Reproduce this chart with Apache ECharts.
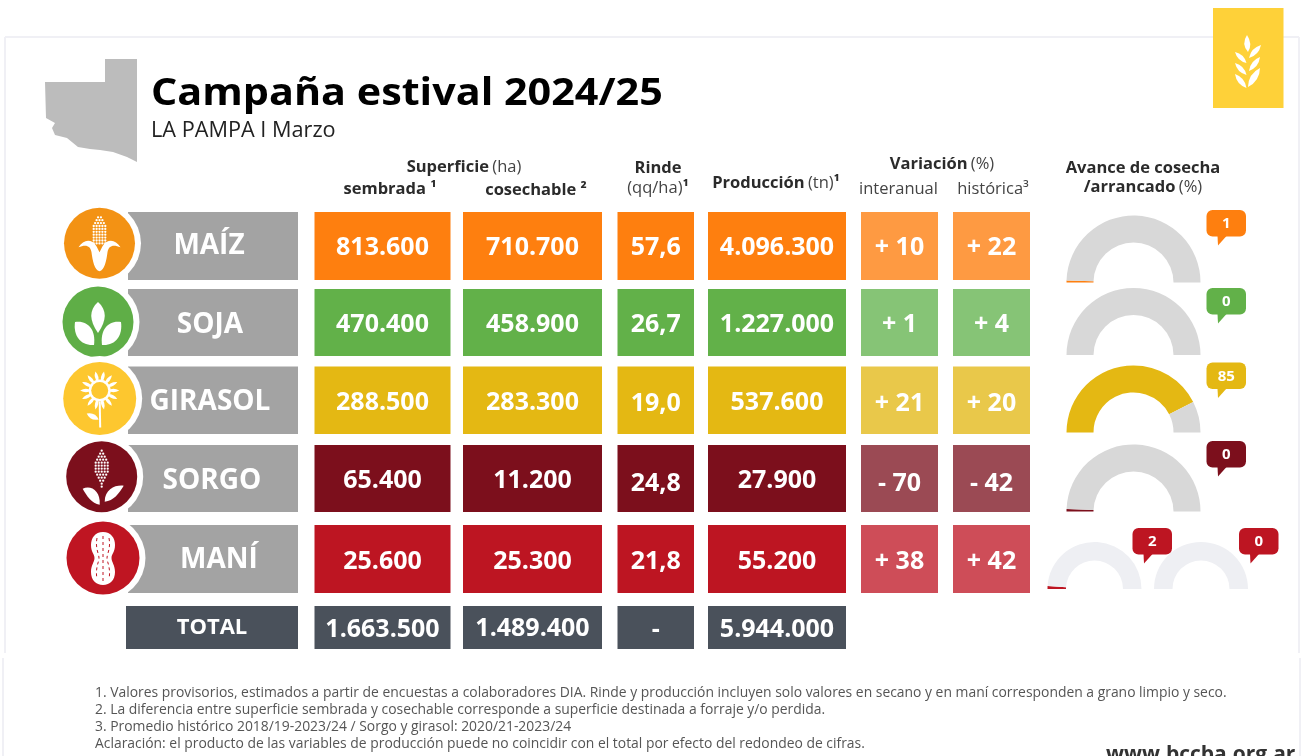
<!DOCTYPE html>
<html>
<head>
<meta charset="utf-8">
<title>Campaña estival 2024/25</title>
<script src="https://cdn.jsdelivr.net/npm/echarts@6/dist/echarts.min.js"></script>
<style>
html,body{margin:0;padding:0;background:#fff;overflow:hidden}
#chart{width:1301px;height:756px}
</style>
</head>
<body>
<div id="chart"></div>
<script>
// datos
var cultivos = ['MAÍZ', 'SOJA', 'GIRASOL', 'SORGO', 'MANÍ', 'TOTAL'];
var sembrada = [813600, 470400, 288500, 65400, 25600, 1663500];
var cosechable = [710700, 458900, 283300, 11200, 25300, 1489400];
var rinde = [57.6, 26.7, 19.0, 24.8, 21.8, null];
var produccion = [4096300, 1227000, 537600, 27900, 55200, 5944000];
var interanual = [10, 1, 21, -70, 38];
var historica = [22, 4, 20, -42, 42];
// avance: el dibujo usa el valor sin redondear, la burbuja el publicado
var avance = [1, 0, 85, 1.2, 2, 0];
var avanceEtiqueta = [1, 0, 85, 0, 2, 0];
var notas = [
  '1. Valores provisorios, estimados a partir de encuestas a colaboradores DIA. Rinde y producción incluyen solo valores en secano y en maní corresponden a grano limpio y seco.',
  '2. La diferencia entre superficie sembrada y cosechable corresponde a superficie destinada a forraje y/o perdida.',
  '3. Promedio histórico 2018/19-2023/24 / Sorgo y girasol: 2020/21-2023/24',
  'Aclaración: el producto de las variables de producción puede no coincidir con el total por efecto del redondeo de cifras.'
];

// colores y disposicion
var colorFila = ['#fe7f0f', '#62b149', '#e4b813', '#7c0f1c', '#bd1522', '#4a515b'];
var colorVar = ['#fe9a42', '#86c476', '#e9c84a', '#9b4a54', '#ce4d58'];
var colorCirculo = ['#f39214', '#5fae47', '#fdc72f', '#7c0f1c', '#bf1522'];
var colX = [314.5, 463, 617.5, 708, 861, 953];
var colW = [136, 139, 76.5, 138, 77, 77];
var rowY = [212, 289, 366.5, 445, 525, 606];
var rowH = [68, 67, 67.5, 67, 68, 43];
var textoY = [248, 325, 403, 481, 562, 629.5];
// en el original algunas cifras no estan centradas igual en su fila
var ajusteY = {2: [0, 0, 1, -0.5, 1, 1], 3: [0, 0, 2.5, 0, 2.5, 2.5], 5: [0, -1, 0, 0, 0, 0]};
var circulos = [[99.5, 243.3, 35.5], [98, 322, 35.5], [99.7, 398.5, 36.5], [101.7, 476.7, 35.5], [103, 558, 36.5]];
var nombreX = [209, 210, 210, 212, 219, 212];
var nombreY = [246, 325, 402, 481, 560, 628];
var gaugeCentro = [[1133.5, 282.5], [1133.5, 355], [1133.5, 432.5], [1133.5, 511.5], [1094.5, 589], [1201, 589]];
var gaugeRadio = [[40, 67], [40, 67], [40, 67], [40, 67], [28.5, 47], [28.5, 47]];
var gaugeColor = ['#fe7f0f', '#62b149', '#e4b813', '#7c0f1c', '#bd1522', '#bd1522'];
var gaugeFondo = ['#d8d8d8', '#d8d8d8', '#d8d8d8', '#d8d8d8', '#eeeff3', '#eeeff3'];
var burbuja = [[1206.5, 210], [1206.5, 288], [1206.5, 362.5], [1206.5, 441], [1132.5, 528], [1239, 528]];

var FONT = "'Open Sans'";

function miles(v) {
  return String(v).replace(/\B(?=(\d{3})+$)/g, '.');
}
function textoCelda(f, c) {
  if (c === 0) return miles(sembrada[f]);
  if (c === 1) return miles(cosechable[f]);
  if (c === 2) return rinde[f] == null ? '-' : rinde[f].toFixed(1).replace('.', ',');
  if (c === 3) return miles(produccion[f]);
  var v = c === 4 ? interanual[f] : historica[f];
  return (v < 0 ? '- ' : '+ ') + Math.abs(v);
}

// hoja entre dos puntos, para los iconos
function hoja(x1, y1, x2, y2, a) {
  var mx = (x1 + x2) / 2, my = (y1 + y2) / 2;
  var nx = -(y2 - y1) * a, ny = (x2 - x1) * a;
  return 'M' + x1 + ' ' + y1 + 'Q' + (mx + nx) + ' ' + (my + ny) + ' ' + x2 + ' ' + y2 +
    'Q' + (mx - nx) + ' ' + (my - ny) + ' ' + x1 + ' ' + y1 + 'Z';
}
function blanco(d, x, y) {
  return {type: 'path', x: x, y: y, shape: {pathData: d}, style: {fill: '#fff'}};
}
function puntos(x, y, anchos, paso, r) {
  var out = [];
  anchos.forEach(function (n, i) {
    for (var k = 0; k < n; k++) {
      out.push({type: 'circle', shape: {cx: x + (k - (n - 1) / 2) * paso, cy: y + i * paso, r: r}, style: {fill: '#fff'}});
    }
  });
  return out;
}
function icono(i, x, y, fondo) {
  if (i === 0) {
    return puntos(x, y - 26, [2, 3, 4, 5, 5, 5, 5, 5, 5, 5], 2.9, 1.15).concat([
      {type: 'path', x: x, y: y, shape: {pathData: 'M-21 4C-16 -4 -8 -5 -3 3L0 9L3 3C8 -5 16 -4 21 4C14 1 9 2 8 9C7 17 5 27 0 28C-5 27 -7 17 -8 9C-9 2 -14 1 -21 4Z'}, style: {fill: '#fff'}}
    ]);
  }
  if (i === 1) {
    return [
      blanco('M0 -20C9 -12 9 -2 0 11C-9 -2 -9 -12 0 -20Z', x, y),
      blanco('M-23 0C-10 -2 -2 8 -4 23C-17 24 -25 14 -23 0Z', x, y),
      blanco('M23 0C10 -2 2 8 4 23C17 24 25 14 23 0Z', x, y)
    ];
  }
  if (i === 2) {
    var out = [];
    for (var k = 0; k < 14; k++) {
      var a = k * Math.PI / 7;
      var c = Math.cos(a), s = Math.sin(a);
      out.push(blanco(hoja(c * 8, s * 8 - 8, c * 19.5, s * 19.5 - 8, 0.3), x, y));
    }
    out.push({type: 'circle', shape: {cx: x, cy: y - 8, r: 11}, style: {fill: '#fff'}});
    out.push({type: 'circle', shape: {cx: x, cy: y - 8, r: 8.5}, style: {fill: fondo}});
    out.push({type: 'line', shape: {x1: x, y1: y + 3, x2: x + 0.5, y2: y + 29}, style: {stroke: '#fff', lineWidth: 2}});
    out.push(blanco(hoja(-13, 15, -1, 21, 0.4), x, y));
    return out;
  }
  if (i === 3) {
    return puntos(x, y - 26, [1, 2, 3, 4, 5, 5, 5, 5, 4, 3, 2, 1, 1], 3, 1.15).concat([
      blanco('M-19 12C-11 8 -1 14 -2 28C-10 27 -15 19 -19 12Z', x, y),
      blanco('M22 9C14 8 3 12 3 25C12 24 17 17 22 9Z', x, y)
    ]);
  }
  return [
    blanco('M0 -26C8 -26 12 -20 12 -13C12 -6 8.5 -4 8.5 0C8.5 4 12 7 12 14C12 22 7 27 0 27C-7 27 -12 22 -12 14C-12 7 -8.5 4 -8.5 0C-8.5 -4 -12 -6 -12 -13C-12 -20 -8 -26 0 -26Z', x, y),
    {type: 'path', x: x, y: y, shape: {pathData: 'M-6 -20C-8 -10 -4 -4 -4 0C-4 4 -8 10 -6 21M0 -22L0 23M6 -20C8 -10 4 -4 4 0C4 4 8 10 6 21'}, style: {fill: 'none', stroke: fondo, lineWidth: 1, lineDash: [3, 3]}}
  ];
}

// series de celdas y de cultivos
var celdas = [];
rowY.forEach(function (y, f) {
  colX.forEach(function (x, c) {
    if (f < 5 || c < 4) celdas.push([f, c]);
  });
});
var filas = cultivos.map(function (n, i) { return [i]; });

var series = [
  {
    type: 'custom', coordinateSystem: 'none', silent: true, z: 2, data: celdas,
    renderItem: function (params, api) {
      var f = api.value(0), c = api.value(1);
      var dy = ajusteY[f] ? ajusteY[f][c] : 0;
      return {
        type: 'group',
        children: [
          {type: 'rect', shape: {x: colX[c], y: rowY[f], width: colW[c], height: rowH[f]},
            style: {fill: c > 3 ? colorVar[f] : colorFila[f]}},
          {type: 'text', style: {text: textoCelda(f, c), x: colX[c] + colW[c] / 2, y: textoY[f] + dy,
            fill: '#fff', font: '700 25px ' + FONT, textAlign: 'center', textVerticalAlign: 'middle'}}
        ]
      };
    }
  },
  {
    type: 'custom', coordinateSystem: 'none', silent: true, z: 2, data: filas,
    renderItem: function (params, api) {
      var f = api.value(0);
      var hijos = [{type: 'rect', shape: {x: f === 5 ? 126 : 128, y: rowY[f], width: f === 5 ? 172 : 170, height: rowH[f]},
        style: {fill: f === 5 ? colorFila[5] : '#a3a3a3'}}];
      if (f < 5) {
        var c = circulos[f];
        hijos.push({type: 'circle', shape: {cx: c[0], cy: c[1], r: c[2] + 6}, style: {fill: '#fff'}});
        hijos.push({type: 'circle', shape: {cx: c[0], cy: c[1], r: c[2]}, style: {fill: colorCirculo[f]}});
        hijos = hijos.concat(icono(f, c[0], c[1], colorCirculo[f]));
      }
      hijos.push({type: 'text', style: {text: cultivos[f], x: nombreX[f], y: nombreY[f], fill: '#fff',
        font: '700 ' + (f === 5 ? 22 : 28) + 'px ' + FONT, textAlign: 'center', textVerticalAlign: 'middle'}});
      return {type: 'group', children: hijos};
    }
  },
  {
    type: 'custom', coordinateSystem: 'none', silent: true, z: 4,
    data: avanceEtiqueta.map(function (v, i) { return [i, v]; }),
    renderItem: function (params, api) {
      var i = api.value(0), p = burbuja[i];
      var x = p[0], y = p[1];
      return {
        type: 'group',
        children: [
          {type: 'rect', shape: {x: x, y: y, width: 39.5, height: 26.5, r: 6}, style: {fill: gaugeColor[i]}},
          {type: 'polygon', shape: {points: [[x + 11, y + 26], [x + 20, y + 26], [x + 11.5, y + 35.5]]}, style: {fill: gaugeColor[i]}},
          {type: 'text', style: {text: String(api.value(1)), x: x + 19.75, y: y + 14, fill: '#fff',
            font: '700 15px ' + FONT, textAlign: 'center', textVerticalAlign: 'middle'}}
        ]
      };
    }
  }
];

avance.forEach(function (v, i) {
  series.push({
    type: 'pie', silent: true, z: 3, animation: false,
    center: gaugeCentro[i], radius: gaugeRadio[i],
    startAngle: 180, endAngle: 0, clockwise: true,
    label: {show: false}, labelLine: {show: false},
    data: [
      {value: v, itemStyle: {color: gaugeColor[i]}},
      {value: 100 - v, itemStyle: {color: gaugeFondo[i]}}
    ]
  });
});

// trigo del recuadro
var trigo = ['M1247 35Q1253 44 1248 52Q1241 44 1247 35Z',
  hoja(1261, 45, 1249, 58, 0.3), hoja(1260, 57, 1249, 71, 0.3), hoja(1260, 68, 1248, 87, 0.3),
  hoja(1235, 52, 1246.5, 63, 0.3), hoja(1235, 63, 1246.5, 75, 0.3), hoja(1235, 74, 1246.5, 88, 0.3)];
series.push({
  type: 'custom', coordinateSystem: 'none', silent: true, z: 1, data: [[0]],
  renderItem: function () {
    return {
      type: 'group',
      children: [
        {type: 'rect', shape: {x: 1213, y: 8, width: 70.5, height: 100}, style: {fill: '#fed139'}}
      ].concat(trigo.map(function (d) { return blanco(d, 0, 0); }))
    };
  }
});

function linea(x1, y1, x2, y2) {
  return {type: 'line', z: 0, shape: {x1: x1, y1: y1, x2: x2, y2: y2}, style: {stroke: '#f0f0f5', lineWidth: 2}};
}
var rich = {
  b: {font: '700 16.5px ' + FONT, fill: '#2b2b2b', color: '#2b2b2b'},
  r: {font: '400 16.5px ' + FONT, fill: '#444', color: '#444'}
};
function cab(text, x, y, align) {
  return {type: 'text', z: 5, style: {text: text, x: x, y: y + 1, rich: rich, textAlign: align || 'center', textVerticalAlign: 'middle'}};
}

var graficos = [
  linea(5, 37, 1299, 37), linea(5, 37, 5, 653), linea(1299, 37, 1299, 653),
  linea(3, 658, 3, 756), linea(1300, 658, 1300, 756),
  {type: 'polygon', z: 1, shape: {points: [[105, 59], [137, 59], [137, 162], [127, 157], [113, 152], [100, 150], [90, 149], [78, 147], [67, 138], [55, 135], [52, 128], [55, 123], [46, 118], [45, 82], [105, 82]]},
    style: {fill: '#bcbcbc'}},
  {type: 'text', z: 5, x: 151, y: 94, scaleX: 1.087, style: {text: 'Campaña estival 2024/25', x: 0, y: 0, font: '700 38px ' + FONT, fill: '#000', textVerticalAlign: 'middle'}},
  {type: 'text', z: 5, style: {text: 'LA PAMPA I Marzo', x: 151, y: 131, font: '400 21.7px ' + FONT, fill: '#222', textVerticalAlign: 'middle'}},
  cab('{b|Superficie} {r|(ha)}', 464, 166),
  cab('{b|sembrada ¹}', 390, 188),
  cab('{b|cosechable ²}', 536, 189),
  cab('{b|Rinde}', 658, 167),
  cab('{r|(qq/ha)}{b|¹}', 658, 187),
  cab('{b|Producción} {r|(tn)}{b|¹}', 776, 182),
  cab('{b|Variación} {r|(%)}', 942, 163),
  cab('{r|interanual}', 898.5, 188),
  cab('{r|histórica³}', 993, 188),
  cab('{b|Avance de cosecha}', 1143, 167),
  cab('{b|/arrancado} {r|(%)}', 1143, 186),
  {type: 'text', z: 5, style: {text: 'www.bccba.org.ar', x: 1106, y: 755, font: '700 21px ' + FONT, fill: '#333', textVerticalAlign: 'middle'}}
];
notas.forEach(function (t, i) {
  graficos.push({type: 'text', z: 5, style: {text: t, x: 95, y: 693 + i * 17, font: '400 13.9px ' + FONT, fill: '#555', textVerticalAlign: 'middle'}});
});

var chart = echarts.init(document.getElementById('chart'));
chart.setOption({
  animation: false,
  backgroundColor: '#fff',
  tooltip: {show: false},
  graphic: {elements: graficos},
  series: series
});
</script>
</body>
</html>
